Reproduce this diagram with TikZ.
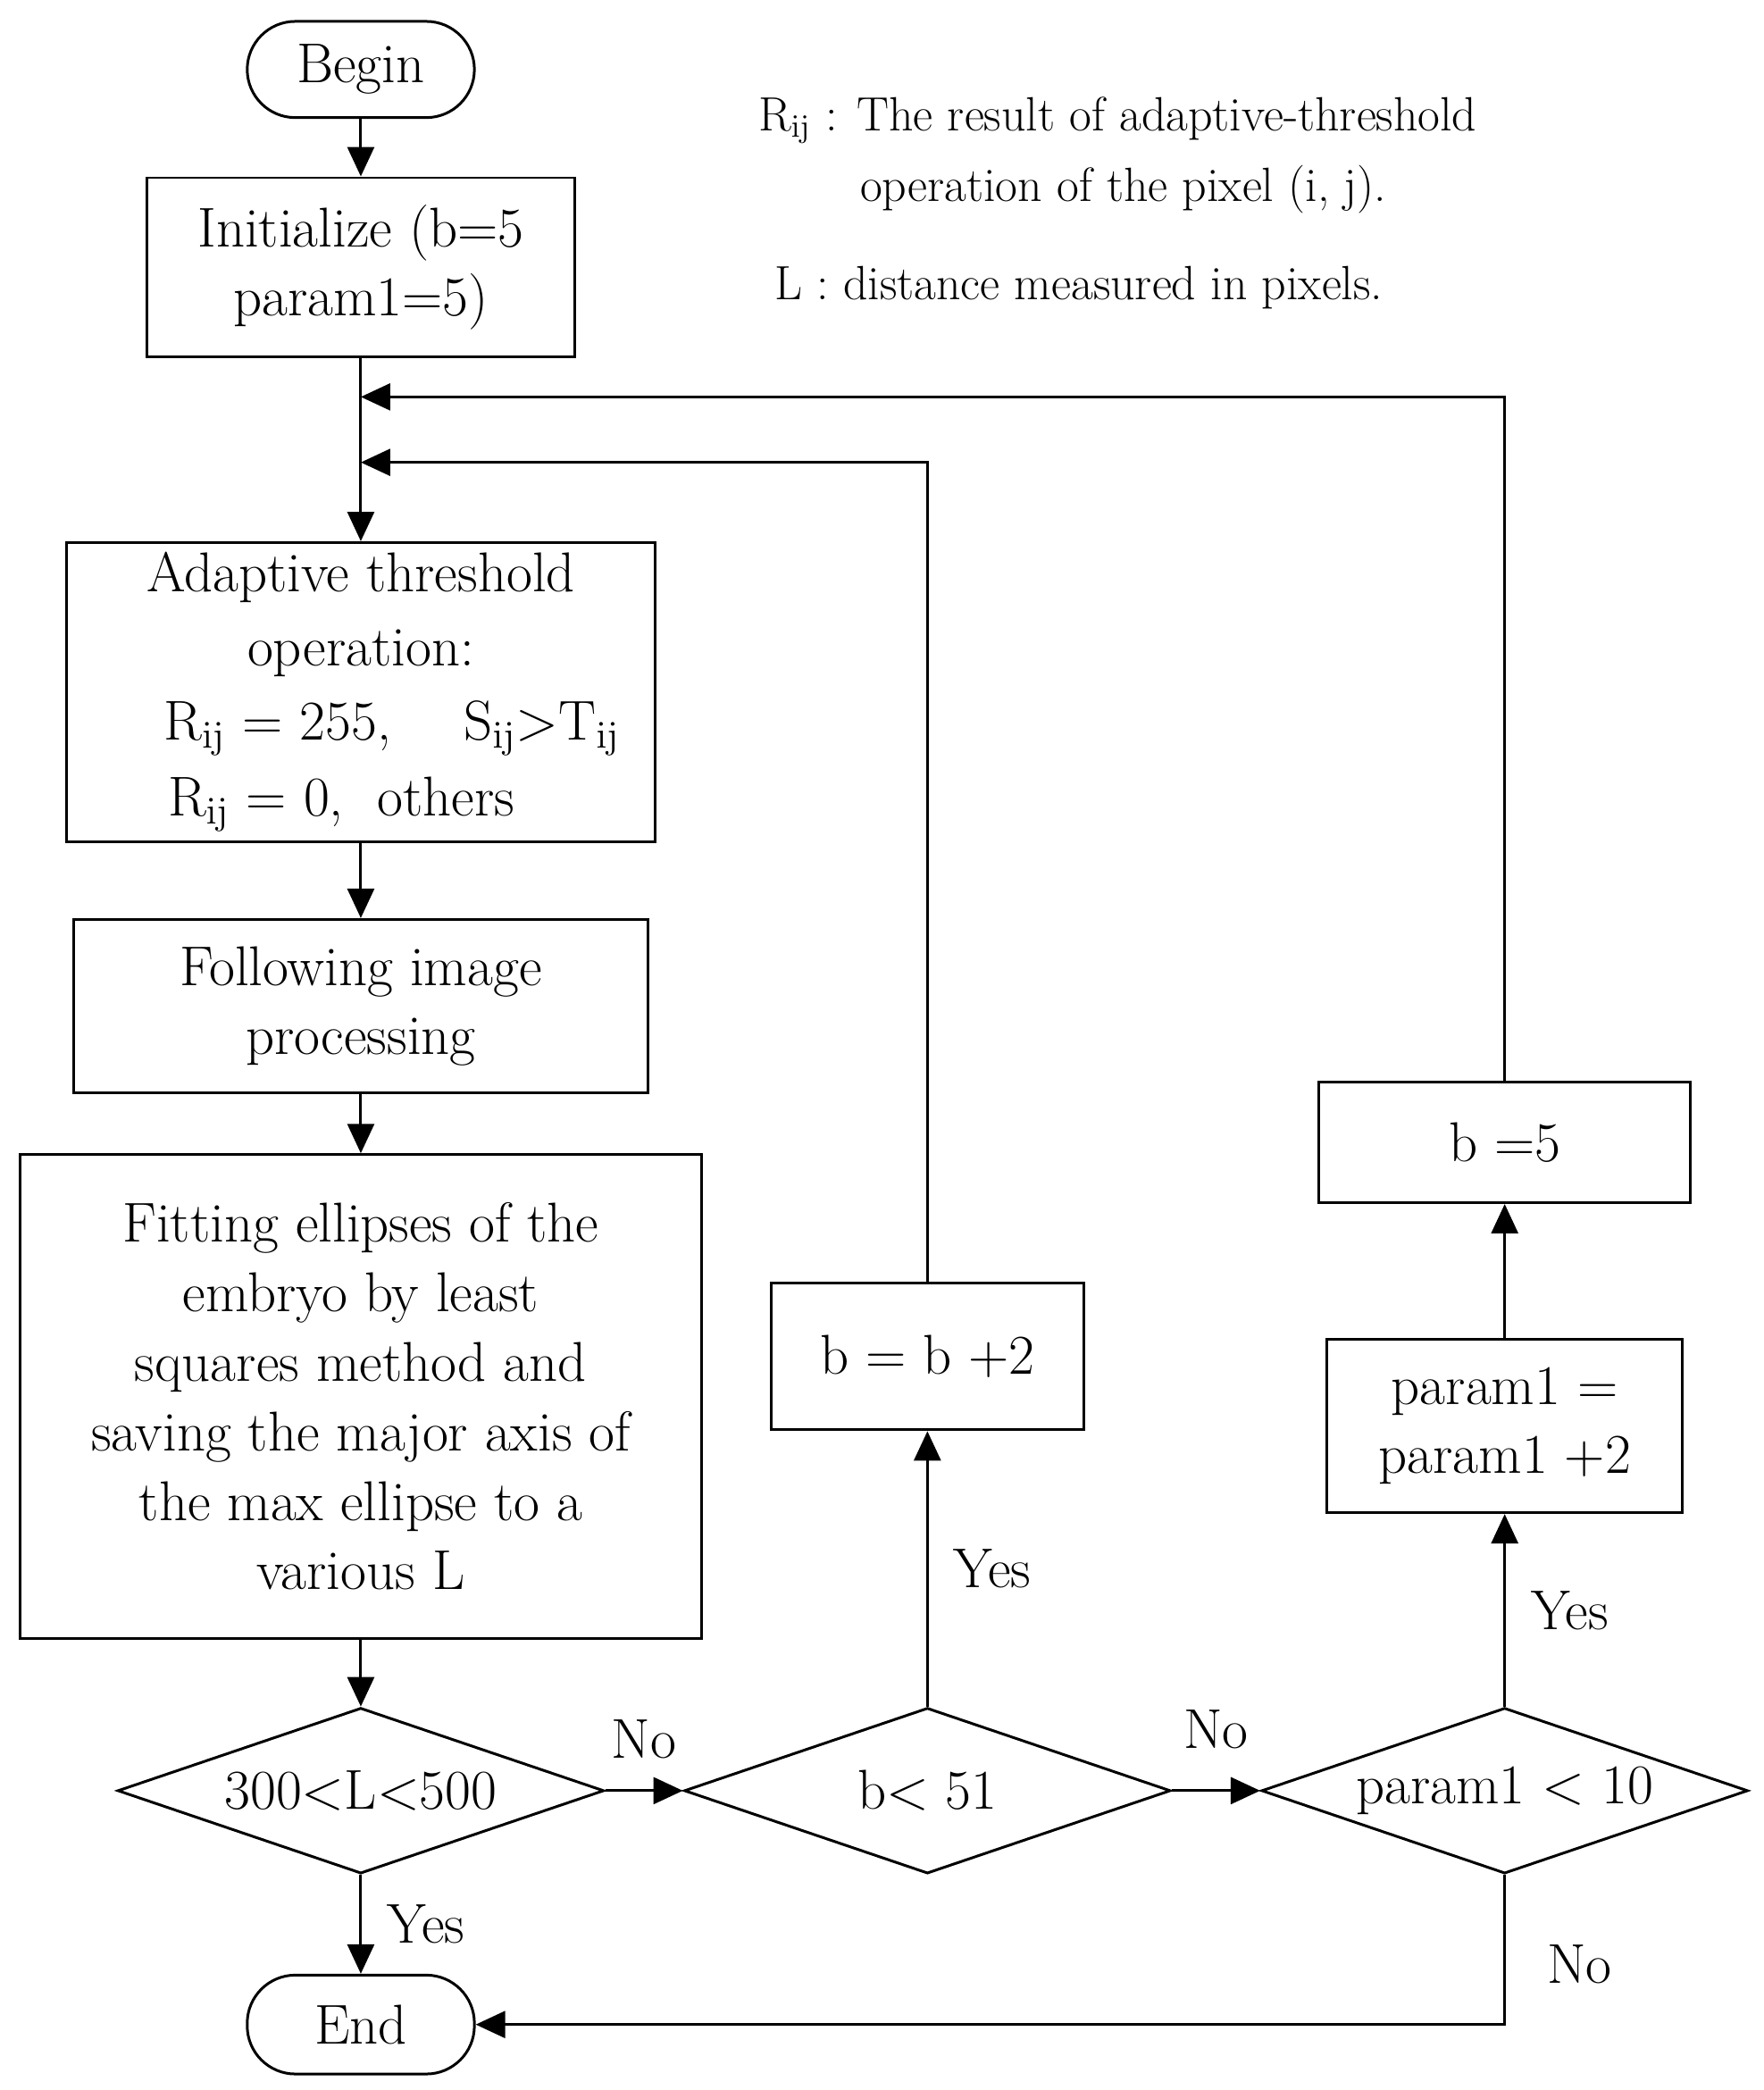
\documentclass[tikz,border=0pt]{standalone}
\usetikzlibrary{shapes.geometric,arrows.meta}
\begin{document}
\begin{tikzpicture}[x=0.5pt,y=-0.5pt,line width=1pt,
  every node/.style={font=\fontsize{21}{26}\selectfont},
  box/.style={draw,inner sep=0pt,align=center},
  dia/.style={draw,diamond,aspect=2.9,inner sep=0pt},
  term/.style={draw,rounded rectangle,inner sep=0pt},
  arr/.style={-{Triangle[length=11pt,width=10pt]}},
  lbl/.style={font=\fontsize{21}{26}\selectfont},
  leg/.style={font=\fontsize{18}{22}\selectfont,anchor=west}]
\useasboundingbox (0,0) rectangle (1320,1564);
\path[use as bounding box] (0,0) rectangle (1320,1564);
\node[draw,rounded corners=18pt,minimum width=85pt,minimum height=36pt] (begin) at (270,52) {Begin};
\node[box,minimum width=160pt,minimum height=67pt] (init) at (270,200) {Initialize (b=5\\param1=5)};
\coordinate (j1) at (270,297);
\coordinate (j2) at (270,346);
\node[box,minimum width=220pt,minimum height=112pt] (adapt) at (270,518) {};
\node (t1) at (270,432) {Adaptive threshold};
\node (t2) at (270,489) {operation:};
\node[anchor=west] (t3) at (115,545) {R$_{\mathrm{ij}}$ = 255,\quad\ S$_{\mathrm{ij}}$>T$_{\mathrm{ij}}$};
\node[anchor=west] (t4) at (118,602) {R$_{\mathrm{ij}}$ = 0,\ \ others};
\node[box,minimum width=215pt,minimum height=65pt] (follow) at (270,753) {Following image\\processing};
\node[box,minimum width=255pt,minimum height=181pt] (fit) at (270,1045) {Fitting ellipses of the\\embryo by least\\squares method and\\saving the major axis of\\the max ellipse to a\\various L};
\node[dia,minimum width=182pt,minimum height=62pt] (d1) at (270,1340) {300<L<500};
\node[draw,rounded corners=18pt,minimum width=85pt,minimum height=37pt] (end) at (270,1515) {End};
\node[dia,minimum width=182pt,minimum height=62pt] (d2) at (694,1340) {b< 51};
\node[dia,minimum width=182pt,minimum height=62pt] (d3) at (1126,1340) {param1 < 10};
\node[box,minimum width=117pt,minimum height=55pt] (bb) at (694,1015) {b = b +2};
\node[box,minimum width=133pt,minimum height=65pt] (pp) at (1126,1067) {param1 =\\param1 +2};
\node[box,minimum width=139pt,minimum height=45pt] (b5) at (1126,855) {b =5};
\node[leg] (l1) at (560,90) {R$_{\mathrm{ij}}$ : The result of adaptive-threshold};
\node[leg] (l2) at (636,142) {operation of the pixel (i, j).};
\node[leg] (l3) at (572,215) {L : distance measured in pixels.};
\draw[arr] (begin) -- (init);
\draw (init) -- (j1) -- (j2);
\draw[arr] (j2) -- (adapt);
\draw[arr] (adapt) -- (follow);
\draw[arr] (follow) -- (fit);
\draw[arr] (fit) -- (d1);
\draw[arr] (d1) -- node[lbl,right,xshift=6pt] {Yes} (end);
\draw[arr] (d1) -- node[lbl,above,yshift=8pt] {No} (d2);
\draw[arr] (d2) -- node[lbl,above,yshift=12pt] {No} (d3);
\draw[arr] (d2) -- node[lbl,right,xshift=6pt] {Yes} (bb);
\draw[arr] (d3) -- node[lbl,right,xshift=6pt] {Yes} (pp);
\draw[arr] (pp) -- (b5);
\draw[arr] (bb.north) |- (j2);
\draw[arr] (b5.north) |- (j1);
\draw[arr] (d3.south) |- node[lbl,pos=0.3,right,xshift=12pt] {No} (end);
\end{tikzpicture}
\end{document}
